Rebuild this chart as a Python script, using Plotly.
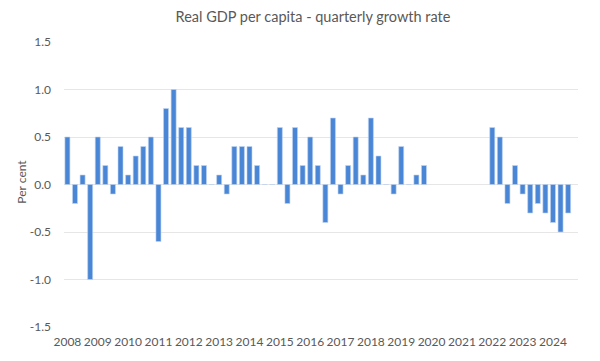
import plotly.graph_objects as go

years = list(range(2008, 2025))
quarters = [f"{y}Q{q}" for y in years for q in range(1, 5)][:67]  # 2008Q1 .. 2024Q3

growth = [
    0.5, -0.2, 0.1, -1.0,      # 2008
    0.5, 0.2, -0.1, 0.4,       # 2009
    0.1, 0.3, 0.4, 0.5,        # 2010
    -0.6, 0.8, 1.0, 0.6,       # 2011
    0.6, 0.2, 0.2, 0.0,        # 2012
    0.1, -0.1, 0.4, 0.4,       # 2013
    0.4, 0.2, 0.0, 0.0,        # 2014
    0.6, -0.2, 0.6, 0.2,       # 2015
    0.5, 0.2, -0.4, 0.7,       # 2016
    -0.1, 0.2, 0.5, 0.1,       # 2017
    0.7, 0.3, 0.0, -0.1,       # 2018
    0.4, 0.0, 0.1, 0.2,        # 2019
    None, None, None, None,    # 2020
    None, None, None, None,    # 2021
    0.6, 0.5, -0.2, 0.2,       # 2022
    -0.1, -0.3, -0.2, -0.3,    # 2023
    -0.4, -0.5, -0.3,          # 2024
]

tick_vals = [f"{y}Q1" for y in years]
tick_text = [str(y) for y in years]
y_ticks = [-1.5, -1.0, -0.5, 0.0, 0.5, 1.0, 1.5]

grey = "#595959"
font_family = "Lato, Open Sans, Liberation Sans, sans-serif"

fig = go.Figure(
    go.Bar(
        x=quarters,
        y=growth,
        marker=dict(color="#4A86D6", line=dict(color="#BFD4F0", width=0.6)),
        width=0.66,
    )
)

fig.update_layout(
    width=600,
    height=361,
    paper_bgcolor="white",
    plot_bgcolor="white",
    margin=dict(l=64, r=22, t=42, b=34, autoexpand=False),
    showlegend=False,
    title=dict(
        text="Real GDP per capita - quarterly growth rate",
        x=313 / 600,
        xanchor="center",
        xref="container",
        y=1 - 17 / 361,
        yanchor="middle",
        yref="container",
        font=dict(family=font_family, size=14.5, color=grey),
    ),
    font=dict(family=font_family, color=grey),
    annotations=[
        dict(
            text="Per cent",
            textangle=-90,
            xref="paper",
            yref="paper",
            x=(22 - 64) / 514,
            y=0.51,
            xanchor="center",
            yanchor="middle",
            showarrow=False,
            font=dict(family=font_family, size=12, color=grey),
        )
    ],
)

fig.update_xaxes(
    type="category",
    categoryorder="array",
    categoryarray=quarters,
    range=[-0.45, 67.3],
    tickmode="array",
    tickvals=tick_vals,
    ticktext=tick_text,
    tickangle=0,
    ticks="",
    showgrid=False,
    showline=False,
    zeroline=False,
    automargin=False,
    tickfont=dict(size=12, color=grey),
    ticklabelstandoff=6,
)

fig.update_yaxes(
    range=[-1.5, 1.5],
    tickmode="array",
    tickvals=y_ticks,
    ticktext=[f"{v:.1f}" for v in y_ticks],
    showgrid=True,
    gridcolor="#E6E6E6",
    gridwidth=1,
    zeroline=True,
    zerolinecolor="#E6E6E6",
    zerolinewidth=1,
    showline=False,
    ticks="",
    automargin=False,
    tickfont=dict(size=12, color=grey),
    ticklabelstandoff=12,
)

fig.write_html(
    "out.html",
    config={"displayModeBar": False},
    post_script="document.body.style.margin='0';document.body.style.padding='0';",
)
